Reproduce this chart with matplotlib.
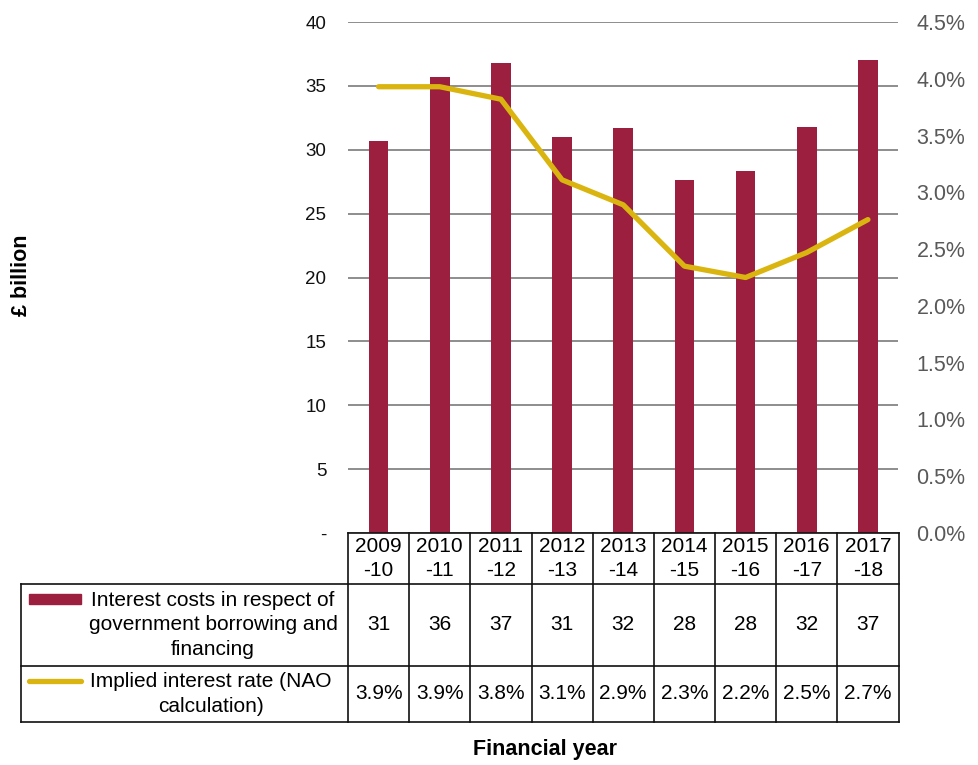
import matplotlib
matplotlib.use("Agg")
import matplotlib.pyplot as plt
from matplotlib.patches import Rectangle
from matplotlib.lines import Line2D

plt.rcParams['font.family'] = ['Liberation Sans', 'DejaVu Sans']

# Financial years and series
years = ["2009\n-10", "2010\n-11", "2011\n-12", "2012\n-13", "2013\n-14",
         "2014\n-15", "2015\n-16", "2016\n-17", "2017\n-18"]
interest_costs = [30.7, 35.7, 36.8, 31.0, 31.7, 27.6, 28.3, 31.8, 37.0]   # £ billion
implied_rate = [3.93, 3.93, 3.82, 3.11, 2.89, 2.35, 2.25, 2.47, 2.76]     # percent
cost_labels = ["31", "36", "37", "31", "32", "28", "28", "32", "37"]
rate_labels = ["3.9%", "3.9%", "3.8%", "3.1%", "2.9%", "2.3%", "2.2%", "2.5%", "2.7%"]

left_ticks = [0, 5, 10, 15, 20, 25, 30, 35, 40]
left_ticklabels = ["-", "5", "10", "15", "20", "25", "30", "35", "40"]
right_ticks = [0, 0.5, 1.0, 1.5, 2.0, 2.5, 3.0, 3.5, 4.0, 4.5]
right_ticklabels = [f"{v:.1f}%" for v in right_ticks]

bar_name = "Interest costs in respect of\ngovernment borrowing and\nfinancing"
line_name = "Implied interest rate (NAO\ncalculation)"

BAR_C = "#9C1F40"
LINE_C = "#DBB50F"
GRID_C = "#7a7a7a"

W, H = 979, 765
fig = plt.figure(figsize=(W / 100, H / 100), dpi=100)

def px_rect(x0, y0, x1, y1):
    """Figure-fraction rectangle from pixel box (top-left origin)."""
    return [x0 / W, (H - y1) / H, (x1 - x0) / W, (y1 - y0) / H]

PLOT_L, PLOT_R, PLOT_T, PLOT_B = 348, 898.5, 22, 533
ax = fig.add_axes(px_rect(PLOT_L, PLOT_T, PLOT_R, PLOT_B))
x = list(range(len(years)))
ax.bar(x, interest_costs, width=0.32, color=BAR_C, zorder=3)
ax.set_xlim(-0.5, len(years) - 0.5)
ax.set_ylim(0, 40)
ax.set_yticks(left_ticks)
ax.set_yticklabels(left_ticklabels, fontsize=13.5, color="#111111")
ax.tick_params(axis='y', length=0, pad=15.5)
ax.set_xticks([])
ax.yaxis.grid(True, color=GRID_C, linewidth=1.2, zorder=0)
ax.set_axisbelow(True)
for s in ax.spines.values():
    s.set_visible(False)

ax2 = ax.twinx()
ax2.plot(x, implied_rate, color=LINE_C, linewidth=3.8,
         solid_capstyle='round', solid_joinstyle='round', zorder=4)
ax2.set_ylim(0, 4.5)
ax2.set_yticks(right_ticks)
ax2.set_yticklabels(right_ticklabels, fontsize=15.5, color="#595959")
ax2.tick_params(axis='y', length=0, pad=13)
for s in ax2.spines.values():
    s.set_visible(False)

fig.text(22 / W, 1 - 275 / H, "£ billion", rotation=90, ha='center', va='center',
         fontsize=15.5, fontweight='bold')
fig.text(545 / W, 1 - 750 / H, "Financial year", ha='center', va='center',
         fontsize=15.5, fontweight='bold')

# Data table beneath the plot, in pixel-like coordinates
TAB_L, TAB_T, TAB_B = 21, 533, 722
tab = fig.add_axes(px_rect(TAB_L, TAB_T, PLOT_R, TAB_B))
unit = (PLOT_R - PLOT_L) / len(years)
x_left = -0.5 - (PLOT_L - TAB_L) / unit
tab.set_xlim(x_left, len(years) - 0.5)
tab.set_ylim(TAB_B, TAB_T)  # pixel rows, top at 533
tab.axis('off')

row1_b, row2_b = 584, 665.7
lc = "#111111"
lw = 1.2
n = len(years)
# horizontal lines
tab.plot([-0.5, n - 0.5], [TAB_T, TAB_T], color=lc, lw=lw, clip_on=False)
for yy in (row1_b, row2_b, TAB_B):
    tab.plot([x_left, n - 0.5], [yy, yy], color=lc, lw=lw, clip_on=False)
# vertical lines
for i in range(n + 1):
    tab.plot([i - 0.5, i - 0.5], [TAB_T, TAB_B], color=lc, lw=lw, clip_on=False)
tab.plot([x_left, x_left], [row1_b, TAB_B], color=lc, lw=lw, clip_on=False)

for i in range(n):
    tab.text(i, (TAB_T + row1_b) / 2, years[i], ha='center', va='center',
             fontsize=15, linespacing=1.32)
    tab.text(i, (row1_b + row2_b) / 2, cost_labels[i], ha='center', va='center',
             fontsize=15)
    tab.text(i, (row2_b + TAB_B) / 2, rate_labels[i], ha='center', va='center',
             fontsize=15)

def xpx(p):
    return x_left + (p - TAB_L) / unit

tab.text(xpx(213), (row1_b + row2_b) / 2, bar_name, ha='center', va='center',
         fontsize=15, linespacing=1.38, multialignment='center')
tab.add_patch(Rectangle((xpx(29), 594), xpx(81) - xpx(29), 10, color=BAR_C,
                        clip_on=False))
tab.text(xpx(211), (row2_b + TAB_B) / 2, line_name, ha='center', va='center',
         fontsize=15, linespacing=1.38, multialignment='center')
tab.add_line(Line2D([xpx(29), xpx(81)], [681, 681], color=LINE_C, lw=3.8,
                    solid_capstyle='round'))

fig.savefig("out.png", dpi=100)
